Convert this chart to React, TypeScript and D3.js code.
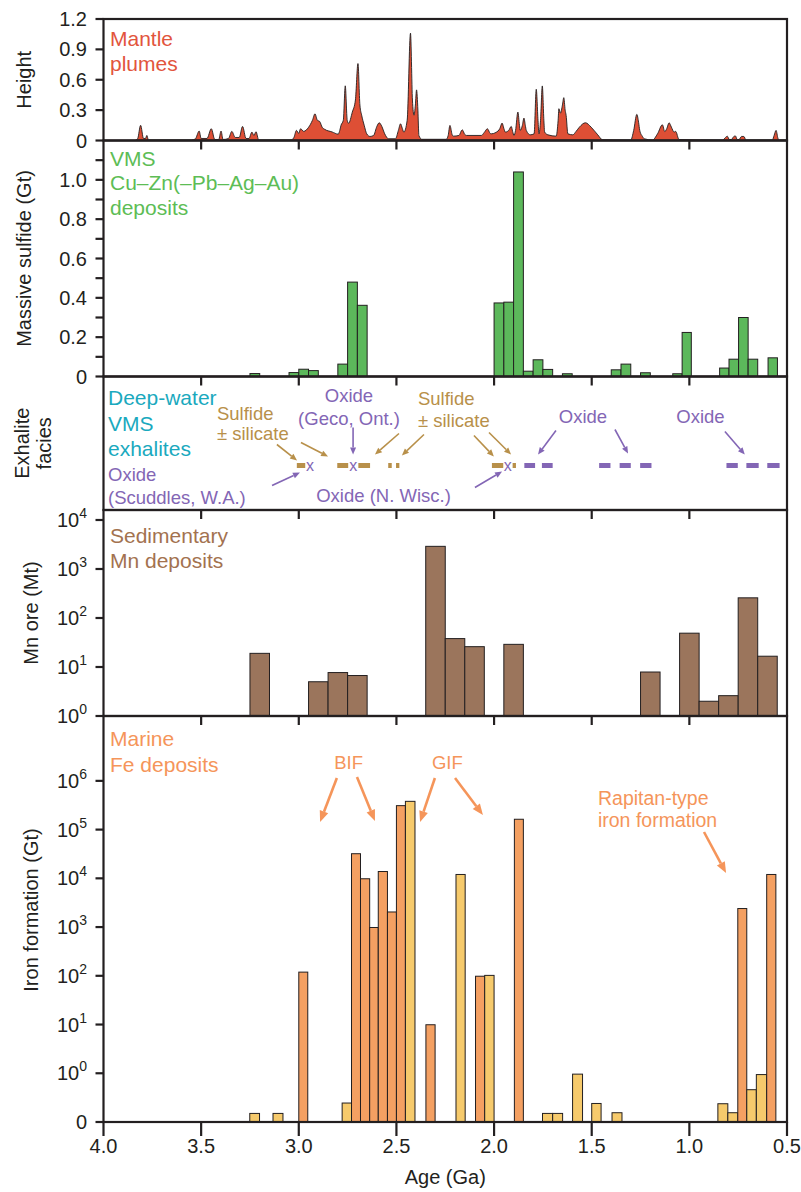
import React from 'react';
import * as d3 from 'd3';

// ---------- data ----------
const ageTicks = [4.0, 3.5, 3.0, 2.5, 2.0, 1.5, 1.0, 0.5];

// Mantle plume "height" profile: [age Ga, height]
const plumeProfile: [number, number][] = [
  [4.0, 0], [3.84, 0], [3.825, 0.02], [3.81, 0.15], [3.795, 0.02], [3.785, 0.02], [3.778, 0.05], [3.77, 0.005],
  [3.55, 0.005], [3.53, 0.015], [3.51, 0.093], [3.5, 0.02], [3.47, 0.02], [3.448, 0.116], [3.43, 0.01], [3.41, 0.01],
  [3.398, 0.093], [3.388, 0.01], [3.36, 0.02], [3.343, 0.09], [3.325, 0.03], [3.305, 0.03], [3.288, 0.139], [3.27, 0.02],
  [3.255, 0.02], [3.24, 0.083], [3.23, 0.05], [3.219, 0.086], [3.205, 0.005], [3.04, 0.005], [3.025, 0.03], [3.012, 0.1],
  [3.0, 0.07], [2.991, 0.116], [2.975, 0.09], [2.95, 0.13], [2.93, 0.2], [2.917, 0.264], [2.905, 0.2], [2.893, 0.188],
  [2.88, 0.13], [2.867, 0.11], [2.83, 0.085], [2.798, 0.063], [2.79, 0.1], [2.784, 0.149], [2.772, 0.2], [2.762, 0.54],
  [2.752, 0.2], [2.745, 0.17], [2.726, 0.28], [2.71, 0.4], [2.697, 0.76], [2.687, 0.35], [2.678, 0.25], [2.665, 0.15],
  [2.652, 0.066], [2.635, 0.04], [2.617, 0.05], [2.6, 0.14], [2.588, 0.175], [2.575, 0.14], [2.56, 0.066], [2.54, 0.017],
  [2.505, 0.017], [2.49, 0.1], [2.479, 0.165], [2.47, 0.12], [2.462, 0.083], [2.445, 0.2], [2.428, 1.06], [2.418, 0.4],
  [2.41, 0.25], [2.403, 0.35], [2.397, 0.5], [2.39, 0.3], [2.385, 0.05], [2.37, 0.012], [2.245, 0.012], [2.235, 0.05],
  [2.226, 0.149], [2.215, 0.06], [2.209, 0.043], [2.18, 0.05], [2.163, 0.106], [2.15, 0.06], [2.141, 0.05], [2.065, 0.05],
  [2.05, 0.08], [2.034, 0.116], [2.02, 0.07], [2.014, 0.066], [1.99, 0.08], [1.97, 0.12], [1.959, 0.172], [1.95, 0.12],
  [1.942, 0.083], [1.925, 0.1], [1.912, 0.139], [1.905, 0.09], [1.898, 0.05], [1.89, 0.1], [1.878, 0.281], [1.87, 0.15],
  [1.866, 0.1], [1.855, 0.15], [1.847, 0.221], [1.84, 0.15], [1.835, 0.1], [1.815, 0.056], [1.795, 0.066], [1.784, 0.506],
  [1.775, 0.2], [1.77, 0.066], [1.762, 0.2], [1.753, 0.539], [1.745, 0.2], [1.741, 0.083], [1.724, 0.056], [1.682, 0.043],
  [1.672, 0.2], [1.668, 0.314], [1.66, 0.27], [1.65, 0.35], [1.643, 0.423], [1.636, 0.3], [1.631, 0.248], [1.622, 0.066],
  [1.597, 0.056], [1.58, 0.09], [1.563, 0.132], [1.532, 0.175], [1.503, 0.132], [1.469, 0.056], [1.444, 0.007], [1.3, 0.005],
  [1.285, 0.1], [1.269, 0.258], [1.26, 0.18], [1.254, 0.1], [1.24, 0.04], [1.231, 0.017], [1.189, 0.005], [1.163, 0.066],
  [1.138, 0.155], [1.126, 0.089], [1.115, 0.12], [1.104, 0.175], [1.092, 0.132], [1.078, 0.083], [1.07, 0.09], [1.053, 0.01],
  [0.83, 0.005], [0.815, 0.03], [0.806, 0.043], [0.795, 0.01], [0.785, 0.01], [0.772, 0.04], [0.764, 0.045], [0.755, 0.01],
  [0.745, 0.01], [0.733, 0.04], [0.721, 0.04], [0.71, 0.005], [0.575, 0.005], [0.566, 0.05], [0.556, 0.1], [0.546, 0.02],
  [0.539, 0.005], [0.5, 0.005],
];

// VMS massive sulfide (Gt)
const vmsBins: [number, number][] = [
  [3.25, 3.2], [3.05, 3.0], [3.0, 2.95], [2.95, 2.9], [2.8, 2.75], [2.75, 2.7], [2.7, 2.65],
  [2.0, 1.95], [1.95, 1.9], [1.9, 1.85], [1.85, 1.8], [1.8, 1.75], [1.75, 1.7], [1.65, 1.6],
  [1.4, 1.35], [1.35, 1.3], [1.25, 1.2], [1.085, 1.037], [1.037, 0.99], [0.845, 0.797], [0.797, 0.748],
  [0.748, 0.699], [0.699, 0.65], [0.597, 0.549],
];
const vmsGt = [
  0.015, 0.02, 0.037, 0.03, 0.063, 0.48, 0.362,
  0.374, 0.378, 1.04, 0.027, 0.085, 0.036, 0.014,
  0.034, 0.063, 0.019, 0.014, 0.224, 0.043, 0.088,
  0.3, 0.088, 0.095,
];

// Exhalite facies
const sulfideSegments: [number, number][] = [
  [3.01, 2.967], [2.803, 2.747], [2.695, 2.635], [2.542, 2.524], [2.502, 2.485], [2.011, 1.953], [1.905, 1.888],
];
const oxideMarks = [2.943, 2.721, 1.93];
const oxideSegments: [number, number][] = [
  [1.845, 1.79], [1.755, 1.7], [1.462, 1.404], [1.357, 1.3], [1.252, 1.194], [0.81, 0.752], [0.708, 0.645], [0.601, 0.538],
];

// Sedimentary Mn (Mt)
const mnBins: [number, number][] = [
  [3.25, 3.15], [2.95, 2.85], [2.85, 2.75], [2.75, 2.65], [2.35, 2.25], [2.25, 2.15], [2.15, 2.05],
  [1.95, 1.85], [1.25, 1.15], [1.05, 0.95], [0.95, 0.85], [0.85, 0.75], [0.75, 0.65], [0.65, 0.55],
];
const mnMt = [19, 5.0, 7.7, 6.7, 2900, 38, 26, 29, 7.9, 49, 2.0, 2.6, 258, 16.6];

// Marine Fe (Gt); group 0 = orange, 1 = yellow
const feBins: [number, number][] = [
  [3.251, 3.201], [3.132, 3.081], [3.0, 2.954], [2.778, 2.73], [2.73, 2.684], [2.684, 2.637], [2.637, 2.593],
  [2.593, 2.546], [2.546, 2.5], [2.5, 2.454], [2.454, 2.405], [2.349, 2.302], [2.195, 2.148], [2.095, 2.048],
  [2.048, 2.0], [1.896, 1.85], [1.752, 1.7], [1.7, 1.649], [1.598, 1.547], [1.5, 1.452], [1.396, 1.345],
  [0.854, 0.803], [0.803, 0.752], [0.752, 0.706], [0.706, 0.657], [0.657, 0.604], [0.604, 0.557],
];
const feGt = [
  0.15, 0.15, 119, 0.245, 32000, 9800, 980,
  13800, 2040, 310000, 380000, 9.9, 12000, 98,
  102, 163000, 0.15, 0.15, 0.96, 0.24, 0.155,
  0.237, 0.155, 2400, 0.46, 0.94, 12000,
];
const feGroup = [
  1, 1, 0, 1, 0, 0, 0,
  0, 0, 0, 1, 0, 1, 0,
  1, 0, 1, 1, 1, 1, 1,
  1, 1, 0, 1, 1, 0,
];

// ---------- styling ----------
const FONT = '"Liberation Sans", Arial, Helvetica, sans-serif';
const INK = '#231f20';
const C = {
  plume: '#de4f35', plumeText: '#e2553d',
  vms: '#5cb85b', vmsText: '#5dbd55',
  teal: '#1aa9be', purple: '#8366b5', tan: '#b8904a',
  mn: '#9b755c', mnText: '#a3724f',
  feO: '#f4a062', feY: '#f6ca6c', feText: '#f5955a',
};

export default function App() {
  const L = 103.5, R = 787;
  const x = d3.scaleLinear().domain([4.0, 0.5]).range([L, R]);
  const P = [
    { top: 19, bot: 140.5 },
    { top: 140.5, bot: 376.5 },
    { top: 376.5, bot: 510 },
    { top: 510, bot: 716 },
    { top: 716, bot: 1122 },
  ];
  const y1 = d3.scaleLinear().domain([0, 1.2]).range([P[0].bot, P[0].top]);
  const y2 = d3.scaleLinear().domain([0, 1.2]).range([P[1].bot, P[1].top]);
  const y4 = d3.scaleLog().domain([1, Math.pow(10, 4.204)]).range([P[3].bot, P[3].top]);
  const y5 = d3.scaleLog().domain([0.1, Math.pow(10, 7.331)]).range([P[4].bot, P[4].top]);

  const area = d3.area<[number, number]>()
    .x(d => x(d[0])).y0(y1(0)).y1(d => y1(d[1])).curve(d3.curveMonotoneX);
  const line = d3.line<[number, number]>()
    .x(d => x(d[0])).y(d => y1(d[1])).curve(d3.curveMonotoneX);

  const tickLen = 8;
  const tickLabelX = 87;

  const sup = (base: string, exp: string, yy: number, key: string) => (
    <text key={key} x={tickLabelX} y={yy + 7} textAnchor="end" fontSize={20} fill={INK}>
      {base}<tspan dy={-9} fontSize={14}>{exp}</tspan>
    </text>
  );

  const p3 = P[2].top, p5 = P[4].top;
  const exArrows = [
    { a: [3.112, 68], b: [3.009, 84], c: C.tan },
    { a: [2.989, 66], b: [2.85, 80], c: C.tan },
    { a: [2.487, 57], b: [2.61, 78], c: C.tan },
    { a: [2.359, 58], b: [2.472, 79], c: C.tan },
    { a: [2.103, 59], b: [2.001, 80], c: C.tan },
    { a: [2.026, 56], b: [1.913, 78], c: C.tan },
    { a: [2.722, 51], b: [2.722, 78], c: C.purple },
    { a: [3.137, 109], b: [2.994, 96], c: C.purple },
    { a: [2.098, 111], b: [1.959, 95], c: C.purple },
    { a: [1.683, 54], b: [1.775, 78], c: C.purple },
    { a: [1.381, 53], b: [1.314, 77], c: C.purple },
    { a: [0.818, 55], b: [0.716, 78], c: C.purple },
  ];
  const feArrows = [
    { a: [2.805, 62], b: [2.891, 106] },
    { a: [2.702, 61], b: [2.61, 105] },
    { a: [2.303, 62], b: [2.379, 106] },
    { a: [2.2, 62], b: [2.057, 99] },
    { a: [0.925, 116], b: [0.812, 157] },
  ];

  const arrowHead = (x1: number, y1_: number, x2: number, y2_: number, len: number, wid: number) => {
    const ang = Math.atan2(y2_ - y1_, x2 - x1);
    const bx = x2 - len * Math.cos(ang), by = y2_ - len * Math.sin(ang);
    const px = -Math.sin(ang) * wid / 2, py = Math.cos(ang) * wid / 2;
    return { pts: `${x2},${y2_} ${bx + px},${by + py} ${bx - px},${by - py}`, bx, by };
  };

  const markerY = p3 + 89;
  const annoFont = 18.5;
  const titleFont = 21;

  return (
    <svg width={801} height={1192} style={{ position: 'absolute', left: 0, top: 0, background: '#fff' }}
      fontFamily={FONT}>
      <rect x={0} y={0} width={801} height={1192} fill="#fff" />

      {/* Panel 1: mantle plumes */}
      <path d={area(plumeProfile) || ''} fill={C.plume} />
      <path d={line(plumeProfile) || ''} fill="none" stroke={INK} strokeWidth={0.9} />
      <text x={110} y={46} fontSize={titleFont} fill={C.plumeText}>Mantle</text>
      <text x={110} y={71} fontSize={titleFont} fill={C.plumeText}>plumes</text>

      {/* Panel 2: VMS */}
      {vmsBins.map((b, i) => (
        <rect key={'v' + i} x={x(b[0])} y={y2(vmsGt[i])} width={x(b[1]) - x(b[0])} height={y2(0) - y2(vmsGt[i])}
          fill={C.vms} stroke={INK} strokeWidth={1} />
      ))}
      <text x={110} y={166} fontSize={titleFont} fill={C.vmsText}>VMS</text>
      <text x={110} y={190} fontSize={titleFont} fill={C.vmsText}>Cu–Zn(–Pb–Ag–Au)</text>
      <text x={110} y={215} fontSize={titleFont} fill={C.vmsText}>deposits</text>

      {/* Panel 3: exhalites */}
      <text fontSize={titleFont} fill={C.teal}>
        <tspan x={108} y={p3 + 28}>Deep-water</tspan>
        <tspan x={108} y={p3 + 54}>VMS</tspan>
        <tspan x={108} y={p3 + 79}>exhalites</tspan>
      </text>
      <text fontSize={annoFont} fill={C.purple}>
        <tspan x={108} y={p3 + 104}>Oxide</tspan>
        <tspan x={108} y={p3 + 127}>(Scuddles, W.A.)</tspan>
      </text>
      <text fontSize={annoFont} fill={C.tan}>
        <tspan x={x(3.419)} y={p3 + 43}>Sulfide</tspan>
        <tspan x={x(3.419)} y={p3 + 63}>± silicate</tspan>
      </text>
      <text fontSize={annoFont} fill={C.purple} textAnchor="middle">
        <tspan x={x(2.743)} y={p3 + 25}>Oxide</tspan>
        <tspan x={x(2.743)} y={p3 + 48}>(Geco, Ont.)</tspan>
      </text>
      <text fontSize={annoFont} fill={C.tan}>
        <tspan x={x(2.39)} y={p3 + 28}>Sulfide</tspan>
        <tspan x={x(2.39)} y={p3 + 50}>± silicate</tspan>
      </text>
      <text x={x(1.545)} y={p3 + 46} fontSize={annoFont} fill={C.purple} textAnchor="middle">Oxide</text>
      <text x={x(0.943)} y={p3 + 46} fontSize={annoFont} fill={C.purple} textAnchor="middle">Oxide</text>
      <text x={x(2.566)} y={p3 + 125} fontSize={annoFont} fill={C.purple} textAnchor="middle">Oxide (N. Wisc.)</text>
      {sulfideSegments.map((s, i) => (
        <rect key={'s' + i} x={x(s[0])} y={markerY - 2.5} width={x(s[1]) - x(s[0])} height={5} fill={C.tan} />
      ))}
      {oxideSegments.map((s, i) => (
        <rect key={'o' + i} x={x(s[0])} y={markerY - 2.5} width={x(s[1]) - x(s[0])} height={5} fill={C.purple} />
      ))}
      {oxideMarks.map((a, i) => (
        <text key={'ox' + i} x={x(a)} y={markerY + 5} fontSize={16} fill={C.purple} textAnchor="middle">x</text>
      ))}
      {exArrows.map((ar, i) => {
        const x1 = x(ar.a[0]), yy1 = p3 + ar.a[1], x2 = x(ar.b[0]), yy2 = p3 + ar.b[1];
        const h = arrowHead(x1, yy1, x2, yy2, 7, 6);
        return (
          <g key={'ea' + i}>
            <line x1={x1} y1={yy1} x2={h.bx} y2={h.by} stroke={ar.c} strokeWidth={1.6} />
            <polygon points={h.pts} fill={ar.c} />
          </g>
        );
      })}

      {/* Panel 4: Mn */}
      {mnBins.map((b, i) => (
        <rect key={'m' + i} x={x(b[0])} y={y4(mnMt[i])} width={x(b[1]) - x(b[0])} height={y4(1) - y4(mnMt[i])}
          fill={C.mn} stroke={INK} strokeWidth={1} />
      ))}
      <text x={110} y={543} fontSize={titleFont} fill={C.mnText}>Sedimentary</text>
      <text x={110} y={568} fontSize={titleFont} fill={C.mnText}>Mn deposits</text>

      {/* Panel 5: Fe */}
      {feBins.map((b, i) => (
        <rect key={'f' + i} x={x(b[0])} y={y5(feGt[i])} width={x(b[1]) - x(b[0])} height={y5(0.1) - y5(feGt[i])}
          fill={feGroup[i] ? C.feY : C.feO} stroke={INK} strokeWidth={1} />
      ))}
      <text x={110} y={746} fontSize={titleFont} fill={C.feText}>Marine</text>
      <text x={110} y={772} fontSize={titleFont} fill={C.feText}>Fe deposits</text>
      <text x={x(2.745)} y={p5 + 53} fontSize={annoFont} fill={C.feText} textAnchor="middle">BIF</text>
      <text x={x(2.239)} y={p5 + 53} fontSize={annoFont} fill={C.feText} textAnchor="middle">GIF</text>
      <text fontSize={annoFont + 1} fill={C.feText}>
        <tspan x={x(1.468)} y={p5 + 89}>Rapitan-type</tspan>
        <tspan x={x(1.468)} y={p5 + 111}>iron formation</tspan>
      </text>
      {feArrows.map((ar, i) => {
        const x1 = x(ar.a[0]), yy1 = p5 + ar.a[1], x2 = x(ar.b[0]), yy2 = p5 + ar.b[1];
        const h = arrowHead(x1, yy1, x2, yy2, 11, 9);
        return (
          <g key={'fa' + i}>
            <line x1={x1} y1={yy1} x2={h.bx} y2={h.by} stroke={C.feText} strokeWidth={2.6} />
            <polygon points={h.pts} fill={C.feText} />
          </g>
        );
      })}

      {/* Frames */}
      {P.map((p, i) => (
        <rect key={'fr' + i} x={L} y={p.top} width={R - L} height={p.bot - p.top} fill="none" stroke={INK} strokeWidth={2.2} />
      ))}
      {/* top inward ticks on panels 2-5 */}
      {P.slice(1).map((p, i) => ageTicks.slice(1, -1).map(a => (
        <line key={'tt' + i + a} x1={x(a)} x2={x(a)} y1={p.top} y2={p.top + 9} stroke={INK} strokeWidth={2.2} />
      )))}
      {/* bottom axis */}
      {ageTicks.map(a => (
        <g key={'bt' + a}>
          <line x1={x(a)} x2={x(a)} y1={P[4].bot} y2={P[4].bot + 14} stroke={INK} strokeWidth={2.2} />
          <text x={x(a)} y={1153} fontSize={20} textAnchor="middle" fill={INK}>{a.toFixed(1)}</text>
        </g>
      ))}
      <text x={(L + R) / 2} y={1184} fontSize={20} textAnchor="middle" fill={INK}>Age (Ga)</text>

      {/* Left axes */}
      {[0, 0.3, 0.6, 0.9, 1.2].map(v => (
        <g key={'y1' + v}>
          <line x1={L - tickLen} x2={L} y1={y1(v)} y2={y1(v)} stroke={INK} strokeWidth={2.2} />
          <text x={tickLabelX} y={y1(v) + 7} fontSize={20} textAnchor="end" fill={INK}>{v === 0 ? '0' : v.toFixed(1)}</text>
        </g>
      ))}
      {d3.range(0, 12).map(k => (
        <line key={'y2t' + k} x1={L - tickLen} x2={L} y1={y2(k / 10)} y2={y2(k / 10)} stroke={INK} strokeWidth={2.2} />
      ))}
      {[0, 0.2, 0.4, 0.6, 0.8, 1.0].map(v => (
        <text key={'y2l' + v} x={tickLabelX} y={y2(v) + 7} fontSize={20} textAnchor="end" fill={INK}>{v === 0 ? '0' : v.toFixed(1)}</text>
      ))}
      {[0, 1, 2, 3, 4].map(e => (
        <g key={'y4' + e}>
          <line x1={L - tickLen} x2={L} y1={y4(Math.pow(10, e))} y2={y4(Math.pow(10, e))} stroke={INK} strokeWidth={2.2} />
          {sup('10', String(e), y4(Math.pow(10, e)), 'y4l' + e)}
        </g>
      ))}
      {[0, 1, 2, 3, 4, 5, 6].map(e => (
        <g key={'y5' + e}>
          <line x1={L - tickLen} x2={L} y1={y5(Math.pow(10, e))} y2={y5(Math.pow(10, e))} stroke={INK} strokeWidth={2.2} />
          {sup('10', String(e), y5(Math.pow(10, e)), 'y5l' + e)}
        </g>
      ))}
      <line x1={L - tickLen} x2={L} y1={y5(0.1)} y2={y5(0.1)} stroke={INK} strokeWidth={2.2} />
      <text x={tickLabelX} y={y5(0.1) + 7} fontSize={20} textAnchor="end" fill={INK}>0</text>

      {/* Y titles */}
      <text transform={`translate(31,${(P[0].top + P[0].bot) / 2}) rotate(-90)`} fontSize={20} textAnchor="middle" fill={INK}>Height</text>
      <text transform={`translate(31,${(P[1].top + P[1].bot) / 2}) rotate(-90)`} fontSize={20} textAnchor="middle" fill={INK}>Massive sulfide (Gt)</text>
      <text transform={`translate(29,${(P[2].top + P[2].bot) / 2}) rotate(-90)`} fontSize={20} textAnchor="middle" fill={INK}>Exhalite</text>
      <text transform={`translate(51,${(P[2].top + P[2].bot) / 2}) rotate(-90)`} fontSize={20} textAnchor="middle" fill={INK}>facies</text>
      <text transform={`translate(38,${(P[3].top + P[3].bot) / 2}) rotate(-90)`} fontSize={20} textAnchor="middle" fill={INK}>Mn ore (Mt)</text>
      <text transform={`translate(38,910) rotate(-90)`} fontSize={20} textAnchor="middle" fill={INK}>Iron formation (Gt)</text>
    </svg>
  );
}
